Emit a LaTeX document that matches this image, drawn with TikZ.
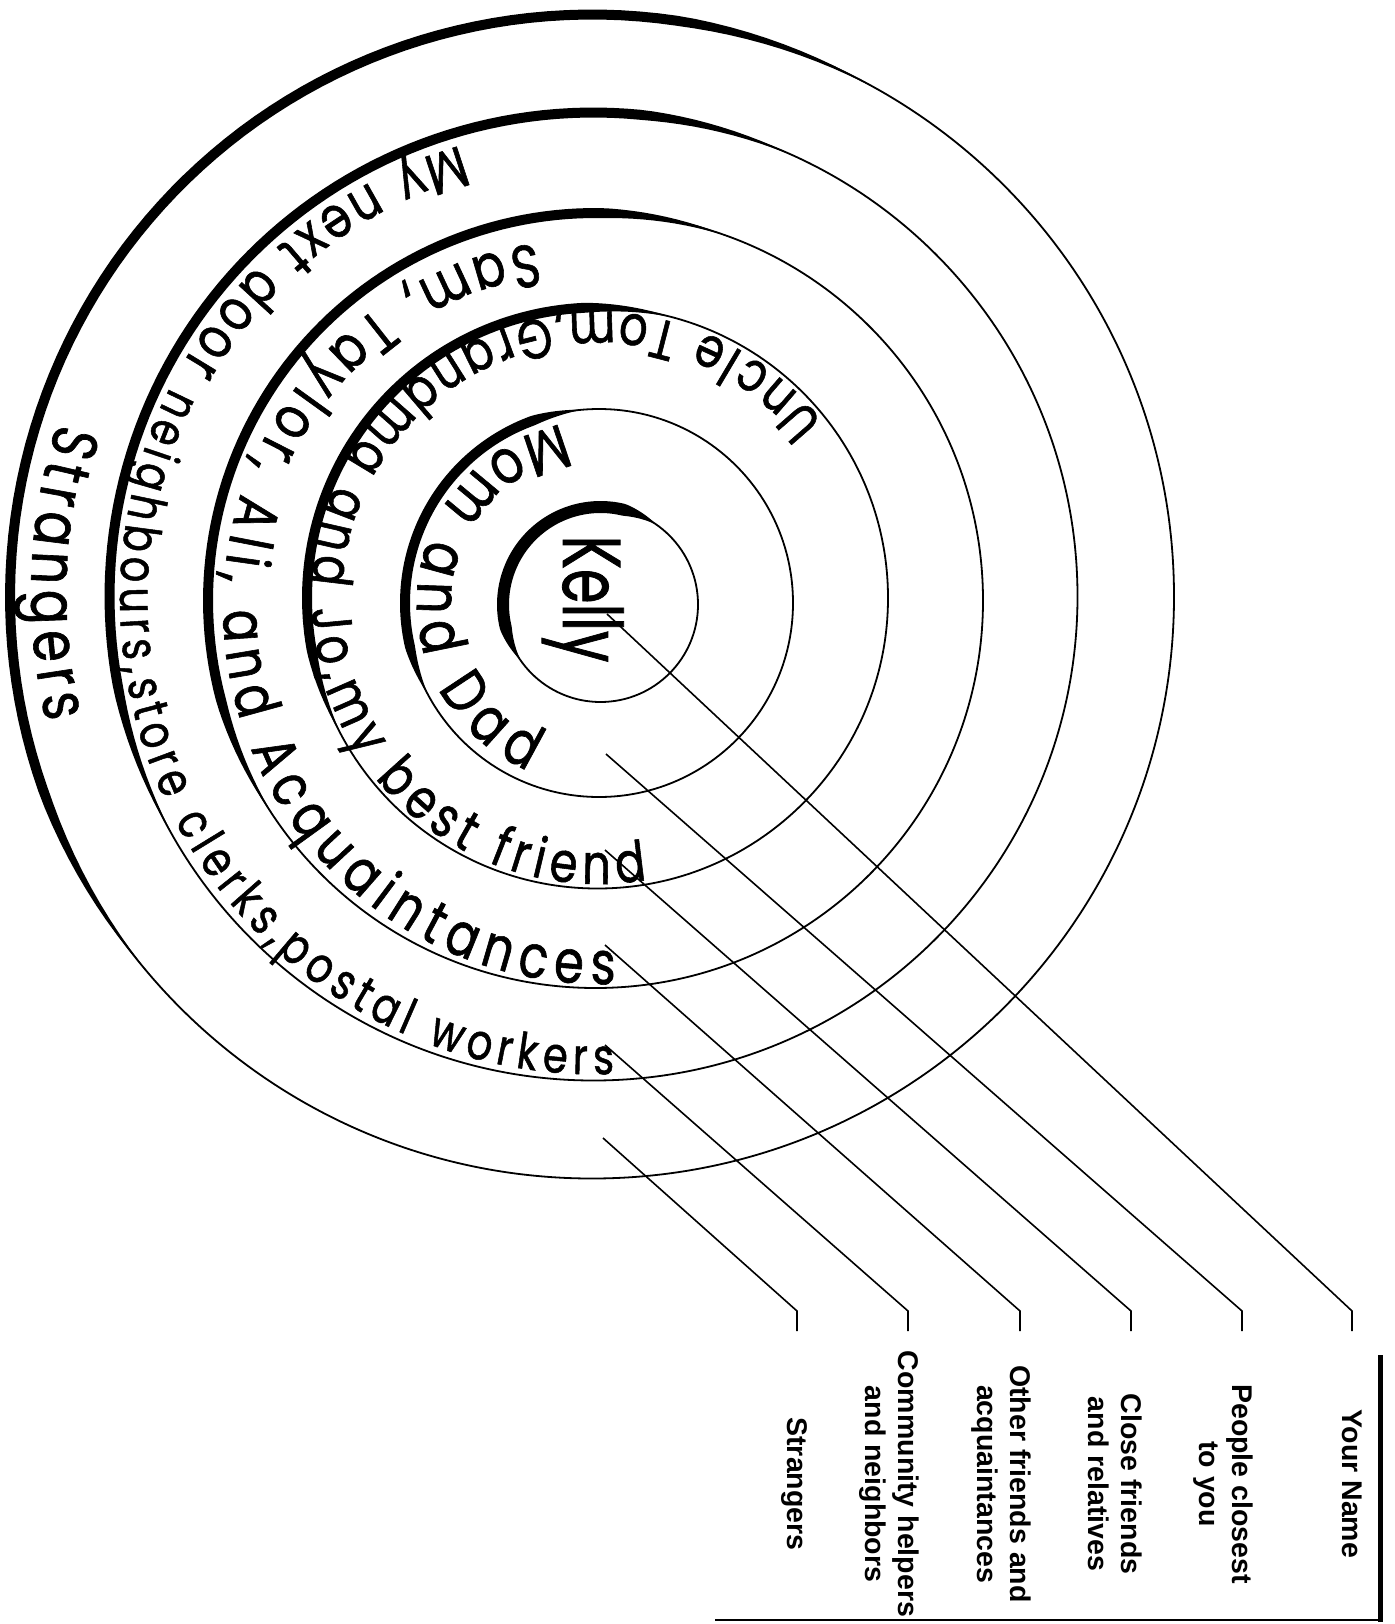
\documentclass[tikz,border=0pt]{standalone}
\usepackage{fontspec}
\newfontfamily\handfont[FakeStretch=0.8,FakeBold=1]{Poppins}
\newfontfamily\labfont{Liberation Sans}
\usetikzlibrary{decorations.text}
% marker arc: cx, cy, r, a, b, w
\newcommand{\markerarc}[6]{%
  \fill plot[domain=#4:#5, samples=90]
    ({#1+(#3+0.5*#6*min(1,2.5*sin(180/(#5-#4)*(\x-#4))))*cos(\x)},
     {#2+(#3+0.5*#6*min(1,2.5*sin(180/(#5-#4)*(\x-#4))))*sin(\x)})
  -- plot[domain=#4:#5, samples=90]
    ({#1+(#3-0.5*#6*min(1,2.5*sin(180/(#5-#4)*(#5-\x))))*cos(#4+#5-\x)},
     {#2+(#3-0.5*#6*min(1,2.5*sin(180/(#5-#4)*(#5-\x))))*sin(#4+#5-\x)})
  -- cycle;}
% text along spiral: cx, cy, a, b, r0, r1, text
\newcommand{\ringtext}[7]{%
  \path[decorate, decoration={text along path, text align=fit to path, text={#7}}]
    plot[domain=#3:#4, samples=120]
    ({#1+(#5+(\x-#3)/(#4-#3)*(#6-#5))*cos(\x)},
     {#2+(#5+(\x-#3)/(#4-#3)*(#6-#5))*sin(\x)});}
\begin{document}
\begin{tikzpicture}[x=1pt,y=1pt,
  ring/.style={line width=1.8pt},
  conn/.style={line width=1.6pt},
  lab/.style={font=\labfont\bfseries\fontsize{28.5}{33}\selectfont, rotate=-90, anchor=base, inner sep=0pt}]
\useasboundingbox (0,0) rectangle (1394,-1624);
\fill[white] (0,0) rectangle (1394,-1624);

% circle centres
\coordinate (c1) at (600.5,-604.5);
\coordinate (c2) at (599,-603);
\coordinate (c3) at (597.5,-598);
\coordinate (c4) at (595.5,-600.5);
\coordinate (c5) at (593.5,-596.5);
\coordinate (c6) at (592,-596.5);

\draw[ring] (c1) circle[radius=97.5];
\draw[ring] (c2) circle[radius=194];
\draw[ring] (c3) circle[radius=290.5];
\draw[ring] (c4) circle[radius=387.5];
\draw[ring] (c5) circle[radius=484];
\draw[ring] (c6) circle[radius=582];

\markerarc{600.5}{-604.5}{97.5}{55}{215}{12}
\markerarc{599}{-603}{194}{95}{208}{10}
\markerarc{597.5}{-598}{290.5}{75}{208}{10}
\markerarc{595.5}{-600.5}{387.5}{70}{214}{10}
\markerarc{593.5}{-596.5}{484}{65}{210}{10}
\markerarc{592}{-596.5}{582}{60}{221}{10}

% handwritten entries
\node[font=\handfont\fontsize{82}{90}\selectfont, rotate=-90, anchor=base, inner sep=0pt]
  (kelly) at (563,-599) {\scalebox{0.85}[1]{Kelly}};
\ringtext{599}{-603}{102}{247}{182}{182}{|\handfont\fontsize{62}{70}\selectfont|Mom and Dad}
\ringtext{597.5}{-598}{38}{280}{286}{286}{|\handfont\fontsize{56}{62}\selectfont|Uncle Tom,Grandma and Jo,my best friend}
\ringtext{595.5}{-600.5}{99.5}{273}{362}{384}{|\handfont\fontsize{60}{68}\selectfont|Sam, Taylor, Ali, and Acquaintances}
\ringtext{593.5}{-596.5}{106.5}{272.5}{470}{478}{|\handfont\fontsize{58}{64}\selectfont|My next door |\handfont\fontsize{50}{56}\selectfont|neighbours,store clerks,postal workers}
\ringtext{592}{-596.5}{162}{193}{562}{560}{|\handfont\fontsize{64}{70}\selectfont|Strangers}

% connector start points, kinks, ends
\coordinate (s1) at (607,-614);
\coordinate (s2) at (606,-754);
\coordinate (s3) at (605,-850);
\coordinate (s4) at (605,-945);
\coordinate (s5) at (605,-1045);
\coordinate (s6) at (603,-1138);
\foreach \i/\t in {1/1352,2/1242,3/1131,4/1020,5/908,6/797}{
  \coordinate (k\i) at (\t,-1311);
  \coordinate (e\i) at (\t,-1331);
  \draw[conn] (s\i) -- (k\i) -- (e\i);
}

% labels
\node[lab] (l1) at (1342,-1484) {Your Name};
\node[lab] (l2a) at (1232,-1484) {People closest};
\node[lab] (l2b) at (1199,-1484) {to you};
\node[lab] (l3a) at (1121,-1484) {Close friends};
\node[lab] (l3b) at (1088,-1484) {and relatives};
\node[lab] (l4a) at (1010,-1484) {Other friends and};
\node[lab] (l4b) at (977,-1484) {acquaintances};
\node[lab] (l5a) at (898,-1484) {Community helpers};
\node[lab] (l5b) at (865,-1484) {and neighbors};
\node[lab] (l6) at (787,-1484) {Strangers};

% frame of the label column
\draw[line width=5pt] (1380,-1355) -- (1380,-1622);
\draw[line width=1.5pt] (715,-1620) -- (1382,-1620);
\end{tikzpicture}
\end{document}
